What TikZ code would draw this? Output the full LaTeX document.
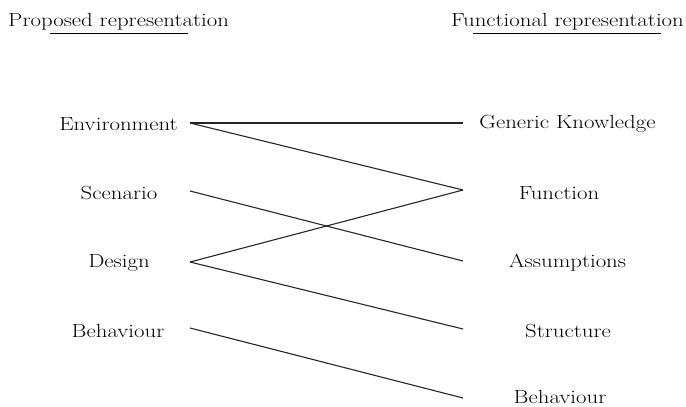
\documentclass[tikz,border=0pt]{standalone}
\newcommand{\wide}[1]{\scalebox{1.2}[1]{#1}}
\begin{document}
\begin{tikzpicture}[x=1pt,y=-1pt,
  lbl/.style={inner sep=0pt, font=\fontsize{19}{22}\selectfont},
  conn/.style={line width=1.1pt, black!85}]
\useasboundingbox (0,0) rectangle (686,407);
% headers
\node[lbl, anchor=base west] (ph) at (8,26) {\wide{Proposed representation}};
\node[lbl, anchor=base east] (fh) at (684,26) {\wide{Functional representation}};
\draw[line width=0.9pt] (50,33) -- (188,33);
\draw[line width=0.9pt] (473,33) -- (661,33);
% left labels
\node[lbl] (env) at (118.5,124) {\wide{Environment}};
\node[lbl] (sce) at (119,193) {\wide{Scenario}};
\node[lbl] (des) at (119,263) {\wide{Design}};
\node[lbl] (beh) at (118,331) {\wide{Behaviour}};
% right labels
\node[lbl] (gk) at (567.5,124) {\wide{Generic Knowledge}};
\node[lbl] (fun) at (559,193) {\wide{Function}};
\node[lbl] (ass) at (567.5,263) {\wide{Assumptions}};
\node[lbl] (str) at (568,331) {\wide{Structure}};
\node[lbl] (rbeh) at (560,397) {\wide{Behaviour}};
% ports
\coordinate (envP) at (190,123);
\coordinate (sceP) at (190,191);
\coordinate (desP) at (190,262);
\coordinate (behP) at (190,328);
\coordinate (gkP) at (463,123);
\coordinate (funP) at (463,190);
\coordinate (assP) at (463,261);
\coordinate (strP) at (463,329);
\coordinate (rbehP) at (463,398);
% connectors
\draw[conn] (envP) -- (gkP);
\draw[conn] (envP) -- (funP);
\draw[conn] (sceP) -- (assP);
\draw[conn] (desP) -- (funP);
\draw[conn] (desP) -- (strP);
\draw[conn] (behP) -- (rbehP);
\end{tikzpicture}
\end{document}
